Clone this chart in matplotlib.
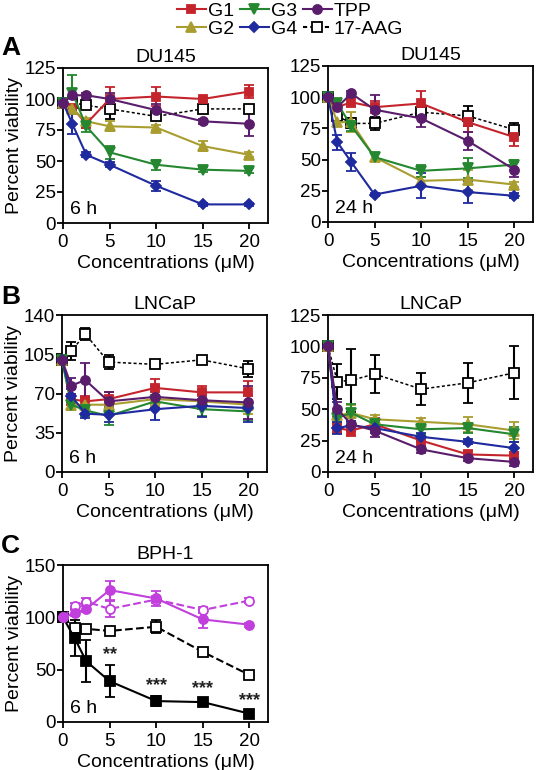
import matplotlib
matplotlib.use('Agg')
import matplotlib.pyplot as plt
from matplotlib.lines import Line2D

plt.rcParams['font.family'] = ['Liberation Sans', 'DejaVu Sans']
plt.rcParams['font.size'] = 14

# Data
CONC = [0, 1, 2.5, 5, 10, 15, 20]
SERIES = ['G1', 'G2', 'G3', 'G4', 'TPP', '17-AAG']

DU145_6H = {
    'G1': [97, 93, 80, 100, 102, 100, 106],
    'G2': [97, 92, 82, 78, 77, 62, 55],
    'G3': [97, 105, 78, 57, 47, 43, 42],
    'G4': [97, 80, 55, 47, 30, 15, 15],
    'TPP': [97, 103, 103, 100, 91, 82, 80],
    '17-AAG': [97, 97, 95, 92, 86, 92, 92],
}
DU145_6H_ERR = {
    'G1': [3, 3, 3, 10, 8, 2, 5],
    'G2': [3, 3, 3, 4, 2, 4, 2],
    'G3': [3, 14, 5, 5, 4, 2, 2],
    'G4': [3, 8, 2, 2, 4, 1, 1],
    'TPP': [3, 5, 2, 5, 5, 2, 10],
    '17-AAG': [3, 5, 3, 8, 3, 2, 3],
}

DU145_24H = {
    'G1': [100, 92, 96, 92, 95, 80, 68],
    'G2': [100, 80, 80, 52, 33, 34, 30],
    'G3': [100, 95, 77, 52, 41, 43, 46],
    'G4': [100, 64, 48, 22, 29, 24, 21],
    'TPP': [100, 92, 103, 90, 83, 65, 42],
    '17-AAG': [100, 85, 79, 79, 88, 85, 74],
}
DU145_24H_ERR = {
    'G1': [2, 3, 4, 5, 10, 8, 7],
    'G2': [2, 3, 8, 3, 3, 8, 2],
    'G3': [2, 3, 4, 3, 5, 8, 4],
    'G4': [2, 6, 7, 1, 10, 9, 2],
    'TPP': [2, 3, 2, 12, 7, 7, 6],
    '17-AAG': [2, 4, 4, 5, 4, 8, 5],
}

LNCAP_6H = {
    'G1': [100, 65, 63, 65, 75, 71, 71],
    'G2': [100, 60, 60, 60, 65, 63, 60],
    'G3': [100, 60, 55, 50, 63, 56, 54],
    'G4': [100, 68, 52, 51, 56, 59, 57],
    'TPP': [100, 77, 82, 63, 67, 64, 62],
    '17-AAG': [100, 108, 123, 98, 96, 100, 92],
}
LNCAP_6H_ERR = {
    'G1': [2, 5, 5, 6, 8, 6, 10],
    'G2': [2, 5, 5, 6, 6, 6, 8],
    'G3': [2, 5, 5, 8, 6, 6, 8],
    'G4': [2, 6, 4, 6, 10, 10, 12],
    'TPP': [2, 7, 15, 8, 10, 8, 15],
    '17-AAG': [2, 8, 5, 6, 3, 2, 7],
}

LNCAP_24H = {
    'G1': [100, 35, 33, 38, 25, 14, 13],
    'G2': [100, 45, 47, 42, 40, 38, 33],
    'G3': [100, 43, 47, 38, 34, 35, 30],
    'G4': [100, 35, 37, 35, 28, 24, 19],
    'TPP': [100, 50, 38, 33, 18, 11, 8],
    '17-AAG': [100, 72, 73, 78, 66, 71, 79],
}
LNCAP_24H_ERR = {
    'G1': [2, 4, 4, 5, 4, 3, 3],
    'G2': [2, 5, 6, 3, 3, 6, 7],
    'G3': [2, 5, 7, 4, 4, 4, 6],
    'G4': [2, 5, 4, 4, 3, 2, 5],
    'TPP': [2, 6, 5, 5, 3, 2, 3],
    '17-AAG': [2, 14, 25, 15, 13, 16, 21],
}

# BPH-1 panel: two magenta curves and two black curves
BPH_CONC = [0, 1.25, 2.5, 5, 10, 15, 20]
BPH_TPP_FILLED = [100, 104, 108, 126, 118, 98, 93]
BPH_TPP_FILLED_ERR = [2, 3, 3, 9, 7, 8, 2]
BPH_TPP_OPEN = [100, 111, 115, 108, 117, 107, 116]
BPH_TPP_OPEN_ERR = [2, 3, 3, 8, 3, 3, 2]
BPH_AAG_OPEN = [100, 90, 89, 87, 91, 67, 45]
BPH_AAG_OPEN_ERR = [2, 3, 3, 3, 6, 3, 4]
BPH_G_FILLED = [100, 80, 58, 39, 20, 19, 8]
BPH_G_FILLED_ERR = [2, 17, 20, 15, 5, 3, 2]
BPH_STARS = {5: '**', 10: '***', 15: '***', 20: '***'}

STYLE = {
    'G1': dict(color='#c4242b', marker='s', ls='-', mfc='#c4242b'),
    'G2': dict(color='#a99d2f', marker='^', ls='-', mfc='#a99d2f'),
    'G3': dict(color='#25872f', marker='v', ls='-', mfc='#25872f'),
    'G4': dict(color='#1f2a9e', marker='D', ls='-', mfc='#1f2a9e'),
    'TPP': dict(color='#5a1d6c', marker='o', ls='-', mfc='#5a1d6c'),
    '17-AAG': dict(color='black', marker='s', ls=(0, (2, 1.5)), mfc='white'),
}
MSIZE = {'G1': 6, 'G2': 6.5, 'G3': 6.5, 'G4': 5, 'TPP': 6.5, '17-AAG': 6.5}

fig = plt.figure(figsize=(5.37, 7.70), dpi=100)
W, H = 537, 770


def make_axes(left, top, right, bottom):
    return fig.add_axes([left / W, 1 - bottom / H, (right - left) / W, (bottom - top) / H])


def style_axes(ax, ymax, ystep, title, tag, ylabel):
    ax.set_xlim(0, 22)
    ax.set_ylim(0, ymax)
    ax.set_xticks([0, 5, 10, 15, 20])
    ax.set_yticks(range(0, ymax + 1, ystep))
    for sp in ax.spines.values():
        sp.set_linewidth(1.3)
    ax.tick_params(direction='out', length=4, width=1.3, labelsize=13.5)
    ax.tick_params(axis='y', pad=1)
    ax.tick_params(axis='x', pad=4)
    ax.tick_params(top=False, right=False)
    ax.set_title(title, fontsize=14, pad=4)
    ax.set_xlabel('Concentrations (μM)', labelpad=3, fontsize=14)
    if ylabel:
        ax.set_ylabel('Percent viability', labelpad=1, fontsize=14)
    ax.text(0.035, 0.03, tag, transform=ax.transAxes, fontsize=14, ha='left', va='bottom')


def draw_panel(ax, data, err):
    order = ['17-AAG', 'G1', 'G2', 'G3', 'G4', 'TPP']
    for name in order:
        st = STYLE[name]
        lw = 1.1 if name == '17-AAG' else 1.5
        ax.errorbar(CONC, data[name], yerr=err[name], color=st['color'], marker=st['marker'],
                    ls=st['ls'], lw=lw, mfc=st['mfc'], mec=st['color'], mew=1.3,
                    ms=MSIZE[name], capsize=3.6, elinewidth=1.5, capthick=1.5,
                    clip_on=False, zorder=3)


ax1 = make_axes(63, 68, 268, 223)
draw_panel(ax1, DU145_6H, DU145_6H_ERR)
style_axes(ax1, 125, 25, 'DU145', '6 h', True)

ax2 = make_axes(328, 66, 533, 222)
draw_panel(ax2, DU145_24H, DU145_24H_ERR)
style_axes(ax2, 125, 25, 'DU145', '24 h', False)

ax3 = make_axes(62, 315, 267, 472)
draw_panel(ax3, LNCAP_6H, LNCAP_6H_ERR)
style_axes(ax3, 140, 35, 'LNCaP', '6 h', True)

ax4 = make_axes(328, 315, 533, 472)
draw_panel(ax4, LNCAP_24H, LNCAP_24H_ERR)
style_axes(ax4, 125, 25, 'LNCaP', '24 h', False)

ax5 = make_axes(63, 565, 268, 722)
magenta = '#c13fdc'
common = dict(capsize=3.6, elinewidth=1.5, capthick=1.5, clip_on=False, zorder=3, mew=1.3)
ax5.errorbar(BPH_CONC, BPH_AAG_OPEN, yerr=BPH_AAG_OPEN_ERR, color='black', marker='s', ls='--',
             lw=1.5, mfc='white', mec='black', ms=6.5, **common)
ax5.errorbar(BPH_CONC, BPH_G_FILLED, yerr=BPH_G_FILLED_ERR, color='black', marker='s', ls='-',
             lw=1.5, mfc='black', mec='black', ms=6.5, **common)
ax5.errorbar(BPH_CONC, BPH_TPP_OPEN, yerr=BPH_TPP_OPEN_ERR, color=magenta, marker='o', ls='--',
             lw=1.5, mfc='white', mec=magenta, ms=6.5, **common)
ax5.errorbar(BPH_CONC, BPH_TPP_FILLED, yerr=BPH_TPP_FILLED_ERR, color=magenta, marker='o', ls='-',
             lw=1.5, mfc=magenta, mec=magenta, ms=6.5, **common)
for xv, star in BPH_STARS.items():
    i = BPH_CONC.index(xv)
    ax5.text(xv, BPH_G_FILLED[i] + BPH_G_FILLED_ERR[i] + 2, star, ha='center', va='bottom',
             fontsize=13, fontweight='bold', color='#222222')
style_axes(ax5, 150, 50, 'BPH-1', '6 h', True)

# panel letters
for letter, ypx in [('A', 48), ('B', 297), ('C', 546)]:
    fig.text(1 / W, 1 - ypx / H, letter, fontsize=19, fontweight='bold', ha='left', va='center')

# legend at top
handles = []
for name in SERIES:
    st = STYLE[name]
    handles.append(Line2D([], [], color=st['color'], marker=st['marker'], ls=st['ls'],
                          lw=1.5, mfc=st['mfc'], mec=st['color'], mew=1.3, ms=MSIZE[name]))
fig.legend(handles, SERIES, loc='upper center', bbox_to_anchor=(0.54, 1.012), ncol=3,
           frameon=False, handlelength=1.5, handletextpad=0.1, columnspacing=0.3,
           labelspacing=0.0, fontsize=14, borderpad=0.1)

fig.savefig('out.png', dpi=100)
